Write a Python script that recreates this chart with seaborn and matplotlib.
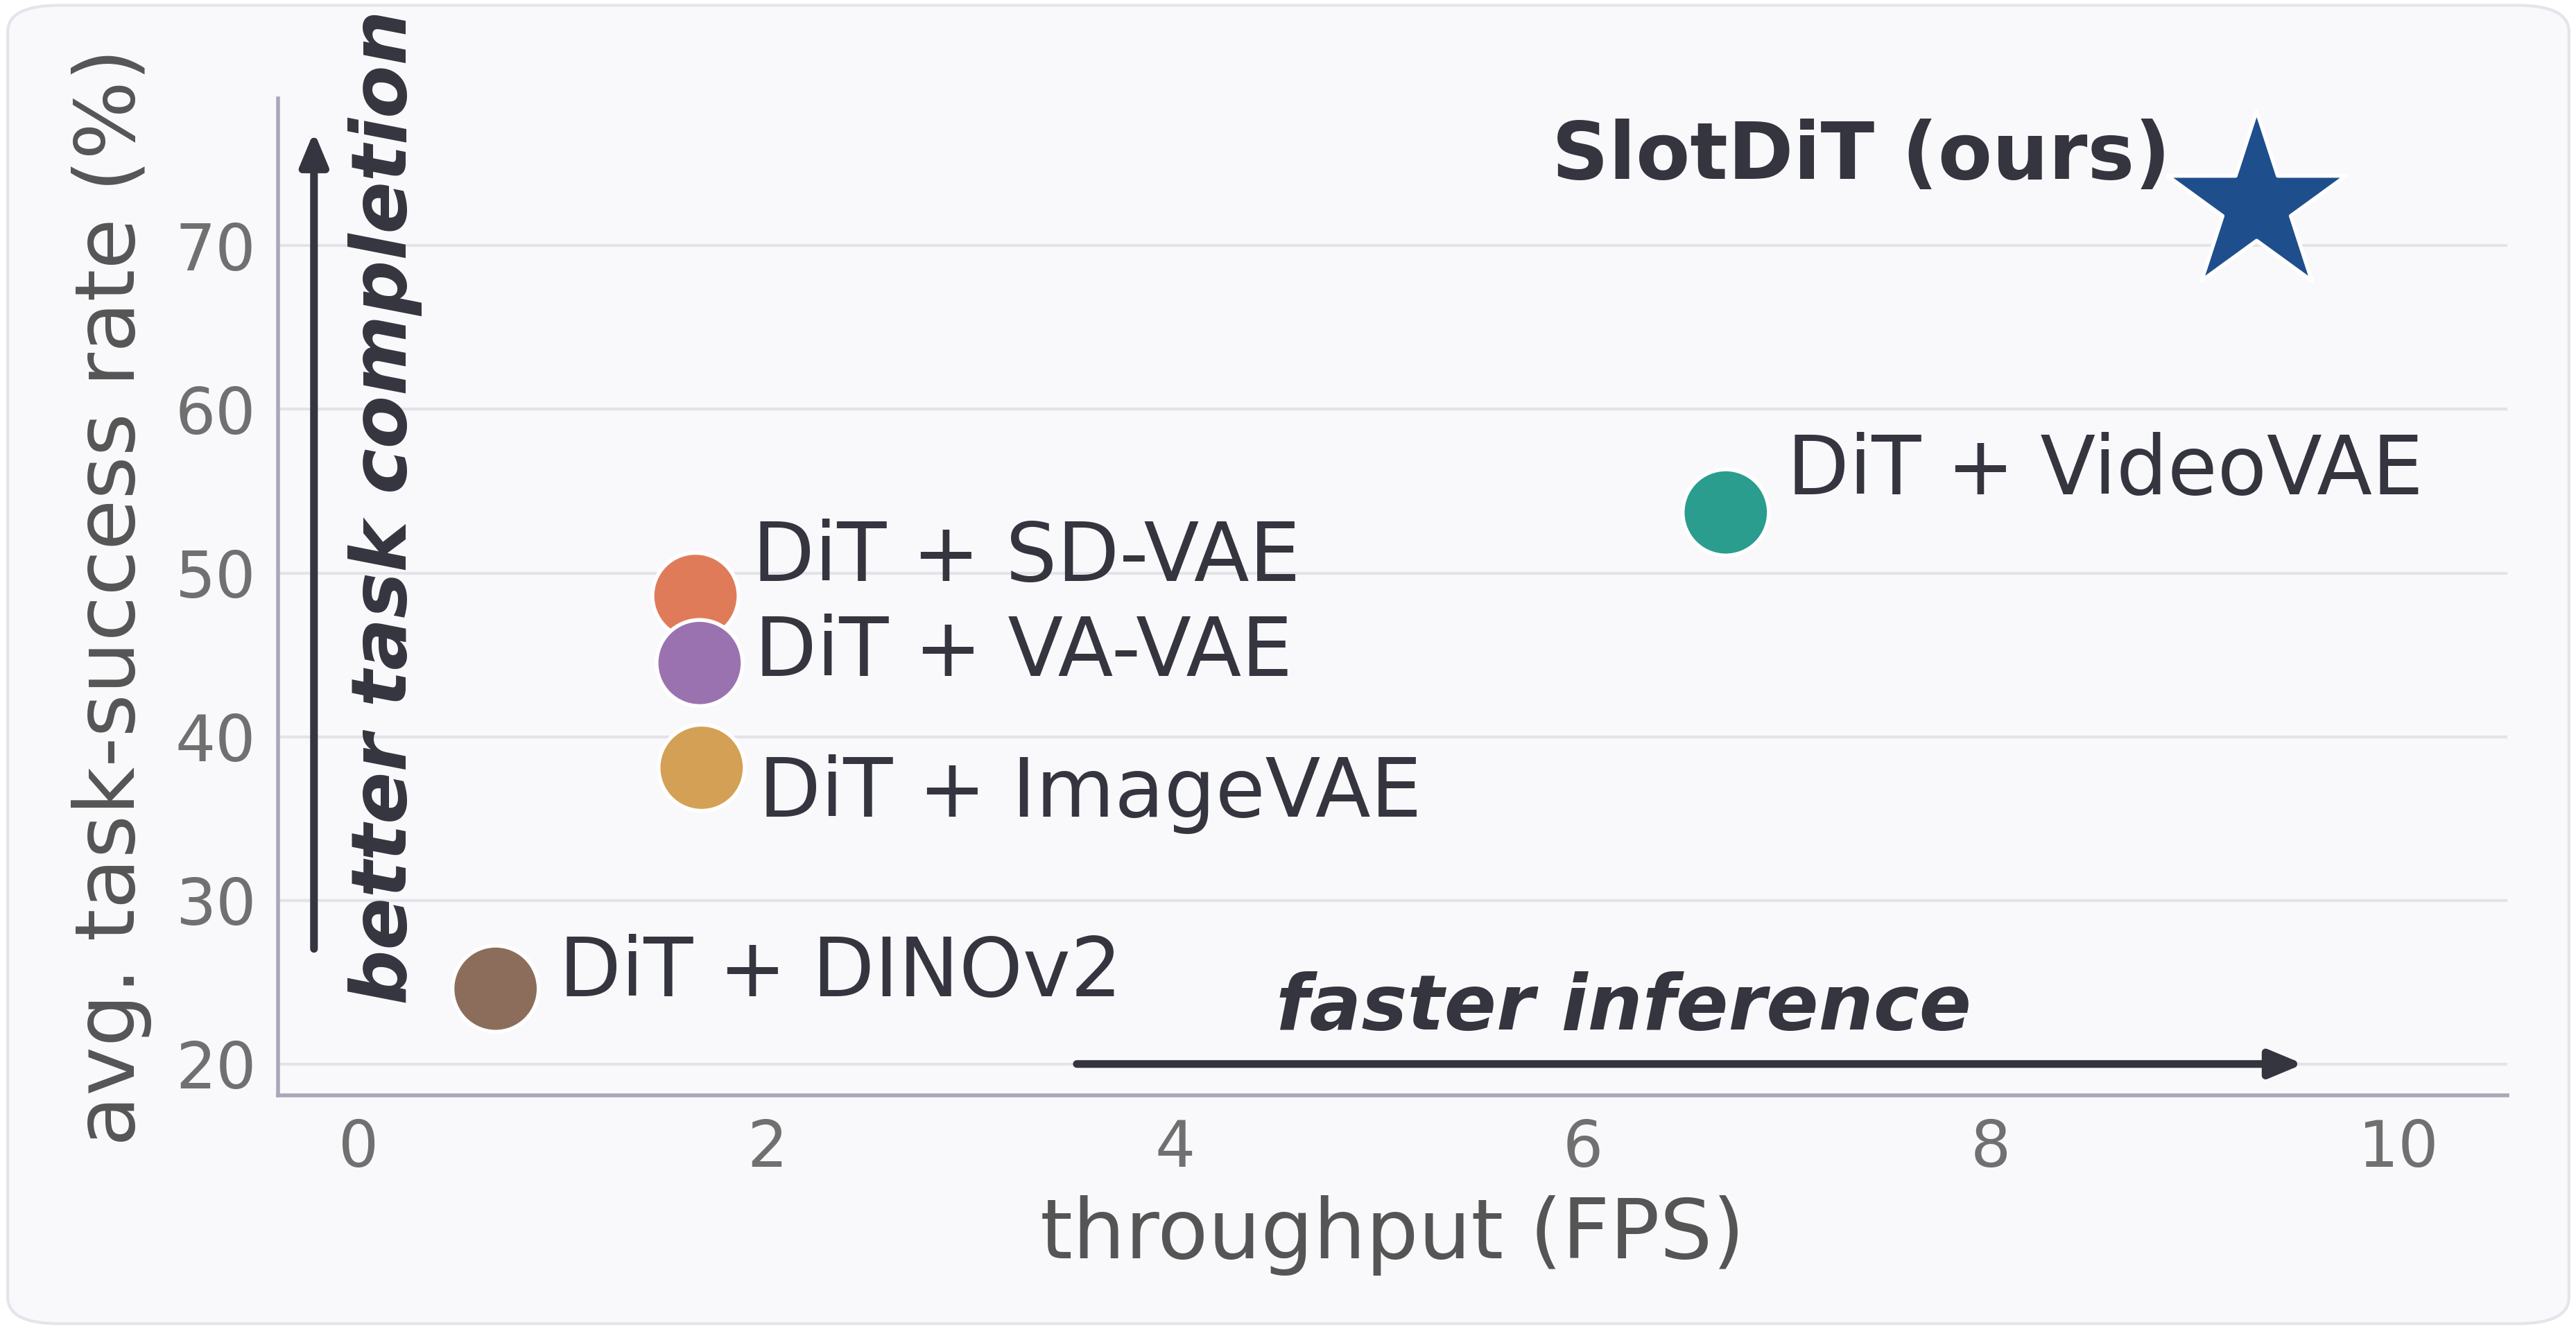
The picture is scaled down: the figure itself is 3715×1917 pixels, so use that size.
import matplotlib
matplotlib.use("Agg")
import matplotlib.pyplot as plt
import seaborn as sns
import pandas as pd
from matplotlib.patches import FancyBboxPatch

methods = ["DiT + DINOv2", "DiT + SD-VAE", "DiT + VA-VAE", "DiT + ImageVAE", "DiT + VideoVAE"]
fps = [0.67, 1.65, 1.67, 1.68, 6.7]
success = [24.6, 48.6, 44.5, 38.1, 53.7]
colors = ["#8c6d5c", "#e07b5a", "#9b72b0", "#d4a055", "#2a9d8f"]
ours_name = "SlotDiT (ours)"
ours_fps = [9.3]
ours_success = [72.5]
xticks = [0, 2, 4, 6, 8, 10]
yticks = [20, 30, 40, 50, 60, 70]

sns.set_theme(style="white")
plt.rcParams['font.family'] = ['DejaVu Sans']
txt = "#35353f"

fig = plt.figure(figsize=(18.58, 9.585), dpi=200)
fig.patch.set_facecolor("white")
fig.patches.append(FancyBboxPatch((0.003, 0.004), 0.994, 0.992, boxstyle="round,pad=0,rounding_size=0.02",
                                  transform=fig.transFigure, facecolor="#f9f9fc", edgecolor="#e4e4ea", lw=1.5, zorder=-10))
ax = fig.add_axes([0.108, 0.176, 0.865, 0.75])
ax.set_facecolor("#f9f9fc")

df = pd.DataFrame({"m": methods, "x": fps, "y": success})
sns.scatterplot(data=df, x="x", y="y", hue="m", palette=colors, s=2000, edgecolor="white", linewidth=2,
                legend=False, ax=ax, zorder=5)
sns.scatterplot(x=ours_fps, y=ours_success, marker="*", s=9500, color="#1f4e8c", edgecolor="white",
                linewidth=2, ax=ax, zorder=6)

offsets = [(0.31, 0.9), (0.28, 2.3), (0.27, 0.6), (0.28, -1.6), (0.3, 2.5)]
for m, x, y, (dx, dy) in zip(methods, fps, success, offsets):
    ax.text(x + dx, y + dy, m, fontsize=42, color=txt, va="center", ha="left", zorder=7)
ax.text(8.88, 75.4, ours_name, fontsize=41, fontweight="bold",
        color=txt, va="center", ha="right")

ax.annotate("", xy=(-0.22, 77.2), xytext=(-0.22, 26.8), arrowprops=dict(arrowstyle="-|>,head_width=0.5,head_length=1.2", lw=4, color=txt))
ax.annotate("", xy=(9.55, 20), xytext=(3.5, 20), arrowprops=dict(arrowstyle="-|>,head_width=0.5,head_length=1.2", lw=4, color=txt))
ax.text(0.13, 54, "better task completion", rotation=90, fontsize=40, fontweight="bold", style="italic",
        color=txt, ha="center", va="center")
ax.text(6.2, 23.4, "faster inference", fontsize=40, fontweight="bold", style="italic",
        color=txt, ha="center", va="center")

ax.set_xlim(-0.395, 10.53)
ax.set_ylim(18.1, 79.0)
ax.set_xticks(xticks)
ax.set_yticks(yticks)
ax.tick_params(labelsize=33, colors="#707070", length=8, width=1.5, color="#a0a0b0")
ax.set_xlabel("throughput (FPS)", fontsize=43, color="#555555", labelpad=8)
ax.set_ylabel("avg. task-success rate (%)", fontsize=43, color="#555555", labelpad=12)
ax.grid(axis="y", color="#e3e3e8", lw=1.5)
ax.set_axisbelow(True)
for s in ["top", "right"]:
    ax.spines[s].set_visible(False)
for s in ["left", "bottom"]:
    ax.spines[s].set_color("#a8a8b8")
    ax.spines[s].set_linewidth(2)

fig.savefig("out.png", dpi=200)
